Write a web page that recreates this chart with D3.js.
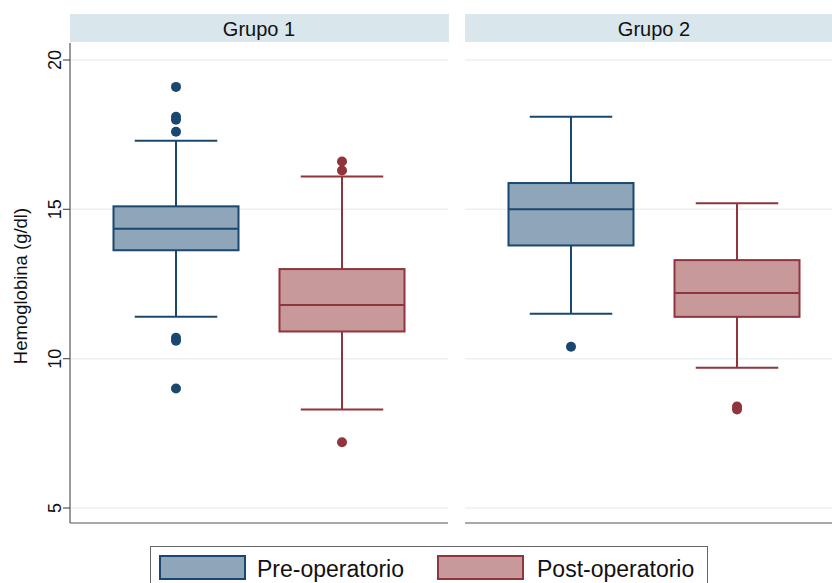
<!DOCTYPE html>
<html><head><meta charset="utf-8">
<script src="https://cdn.jsdelivr.net/npm/d3@7"></script>
<style>html,body{margin:0;padding:0;background:#fff;overflow:hidden}svg{display:block;font-family:"Liberation Sans",Arial,Helvetica,sans-serif}</style>
</head><body>
<svg id="c" width="832" height="583"></svg>
<script>
const groups = ["Grupo 1", "Grupo 2"];
const series = ["Pre-operatorio", "Post-operatorio"];
// order: [group][series]
const lowerWhisker = [[11.4, 8.3], [11.5, 9.7]];
const q1 = [[13.63, 10.91], [13.79, 11.4]];
const median = [[14.35, 11.8], [15.0, 12.2]];
const q3 = [[15.1, 13.0], [15.88, 13.3]];
const upperWhisker = [[17.3, 16.1], [18.1, 15.2]];
const outliers = [[[19.1, 18.1, 18.0, 17.6, 10.7, 10.6, 9.0], [16.6, 16.3, 7.2]], [[10.4], [8.4, 8.3]]];
const yTicks = [5, 10, 15, 20];
const yTitle = "Hemoglobina (g/dl)";

const strokeCol = ["#1a476f", "#90353b"];
const fillCol = ["#8ea5ba", "#c8999b"];

const svg = d3.select("#c");
const y = d3.scaleLinear().domain([5, 20]).range([508, 60]);
const panelW = 378, panelLeft = [70, 465];
const plotTop = 43, plotBottom = 523;

groups.forEach((g, gi) => {
  const x0 = panelLeft[gi];
  const x = d3.scaleBand().domain(series).range([x0, x0 + panelW]).paddingInner(0.247).paddingOuter(0.262);
  const pg = svg.append("g");
  // header strip
  pg.append("rect").attr("x", x0).attr("y", 14).attr("width", panelW + 1).attr("height", 28).attr("fill", "#d9e6eb");
  pg.append("text").attr("x", x0 + panelW / 2).attr("y", 36).attr("text-anchor", "middle").attr("font-size", 20).attr("fill", "#111").text(g);
  // gridlines
  pg.selectAll("line.grid").data(yTicks).join("line").attr("class", "grid")
    .attr("x1", x0).attr("x2", x0 + panelW).attr("y1", d => y(d)).attr("y2", d => y(d))
    .attr("stroke", "#eaf2f3").attr("stroke-width", 1.5);
  // bottom axis line
  pg.append("line").attr("x1", x0).attr("x2", x0 + panelW).attr("y1", plotBottom).attr("y2", plotBottom).attr("stroke", "#555").attr("stroke-width", 1.2);

  series.forEach((s, si) => {
    const bw = x.bandwidth();
    const cx = x(s) + bw / 2;
    const capW = bw * 0.66;
    const sc = strokeCol[si];
    const b = pg.append("g");
    // whiskers
    b.append("line").attr("x1", cx).attr("x2", cx).attr("y1", y(q3[gi][si])).attr("y2", y(upperWhisker[gi][si])).attr("stroke", sc).attr("stroke-width", 2);
    b.append("line").attr("x1", cx).attr("x2", cx).attr("y1", y(q1[gi][si])).attr("y2", y(lowerWhisker[gi][si])).attr("stroke", sc).attr("stroke-width", 2);
    [upperWhisker[gi][si], lowerWhisker[gi][si]].forEach(v => {
      b.append("line").attr("x1", cx - capW / 2).attr("x2", cx + capW / 2).attr("y1", y(v)).attr("y2", y(v)).attr("stroke", sc).attr("stroke-width", 2);
    });
    // box
    b.append("rect").attr("x", x(s)).attr("width", bw).attr("y", y(q3[gi][si])).attr("height", y(q1[gi][si]) - y(q3[gi][si]))
      .attr("fill", fillCol[si]).attr("stroke", sc).attr("stroke-width", 2);
    b.append("line").attr("x1", x(s)).attr("x2", x(s) + bw).attr("y1", y(median[gi][si])).attr("y2", y(median[gi][si])).attr("stroke", sc).attr("stroke-width", 2);
    // outliers
    b.selectAll("circle").data(outliers[gi][si]).join("circle").attr("cx", cx).attr("cy", d => y(d)).attr("r", 5).attr("fill", sc);
  });
});

// y axis
const ax = svg.append("g");
ax.append("line").attr("x1", 70).attr("x2", 70).attr("y1", plotTop).attr("y2", plotBottom).attr("stroke", "#555").attr("stroke-width", 1.2);
yTicks.forEach(t => {
  ax.append("line").attr("x1", 63).attr("x2", 70).attr("y1", y(t)).attr("y2", y(t)).attr("stroke", "#555").attr("stroke-width", 1.2);
  ax.append("text").attr("transform", `translate(61,${y(t)}) rotate(-90)`).attr("text-anchor", "middle").attr("font-size", 18).attr("fill", "#111").text(t);
});
ax.append("text").attr("transform", `translate(27,286) rotate(-90)`).attr("text-anchor", "middle").attr("font-size", 18.5).attr("fill", "#111").text(yTitle);

// legend
const lg = svg.append("g");
lg.append("rect").attr("x", 150.5).attr("y", 546.5).attr("width", 557).attr("height", 50).attr("fill", "#fff").attr("stroke", "#666").attr("stroke-width", 1);
const legX = [160, 438], legTX = [257, 537];
series.forEach((s, si) => {
  lg.append("rect").attr("x", legX[si]).attr("y", 556).attr("width", 85).attr("height", 23).attr("fill", fillCol[si]).attr("stroke", strokeCol[si]).attr("stroke-width", 2);
  lg.append("text").attr("x", legTX[si]).attr("y", 577).attr("font-size", 23).attr("fill", "#111").text(s);
});
</script>
</body></html>
